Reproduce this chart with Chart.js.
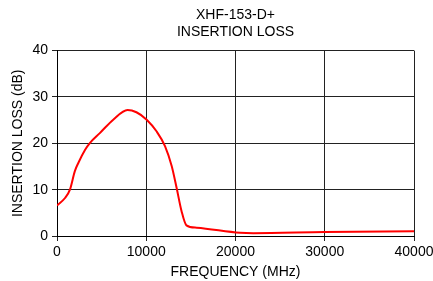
<!DOCTYPE html>
<html>
<head>
<meta charset="utf-8">
<script src="https://cdn.jsdelivr.net/npm/chart.js@4/dist/chart.umd.min.js"></script>
<style>
  html,body{margin:0;padding:0;background:#fff}
  #wrap{width:433px;height:281px;position:relative}
</style>
</head>
<body>
<div id="wrap"><canvas id="c"></canvas></div>
<script>
// ── Data ──
var freqMHz=[0,900,1450,2000,2400,3150,3700,4800,6300,7900,8900,10050,11150,12100,12850,13400,13950,14500,15650,20500,22000,30000,40000];
var lossDb=[6.6,8.2,10.0,14.0,15.8,18.6,20.1,22.2,25.1,27.2,26.7,25.1,22.6,19.4,15.1,10.4,5.4,2.3,1.8,0.7,0.6,0.85,1.0];
var xTicks=[0,10000,20000,30000,40000];
var yTicks=[0,10,20,30,40];
var titleLines=['XHF-153-D+','INSERTION LOSS'];

var FONT='"Liberation Sans", Arial, sans-serif';
Chart.defaults.font.family=FONT;
Chart.defaults.color='#000';

var points=freqMHz.map(function(f,i){return {x:f,y:lossDb[i]}});

new Chart(document.getElementById('c'),{
  type:'line',
  data:{datasets:[{data:points,borderColor:'#ff0000',borderWidth:2,pointRadius:0,cubicInterpolationMode:'monotone',fill:false}]},
  options:{
    responsive:true,maintainAspectRatio:false,animation:false,
    layout:{padding:{left:10,right:19,top:7,bottom:0}},
    plugins:{
      legend:{display:false},tooltip:{enabled:false},
      title:{display:true,fullSize:false,text:titleLines,color:'#000',font:{size:14,weight:'normal'},padding:{top:0,bottom:10},lineHeight:1.15}
    },
    scales:{
      x:{type:'linear',min:0,max:40000,
        afterBuildTicks:function(s){s.ticks=xTicks.map(function(v){return {value:v}})},
        afterFit:function(s){s.height=45;s.paddingLeft=0;s.paddingRight=0},
        grid:{color:'#222',lineWidth:1,tickLength:5},border:{color:'#000',width:1},
        ticks:{color:'#000',font:{size:14},maxRotation:0,padding:3,callback:function(v){return String(v)}},
        title:{display:true,text:'FREQUENCY (MHz)',color:'#000',font:{size:14},padding:{top:2,bottom:0}}
      },
      y:{min:0,max:40,
        afterBuildTicks:function(s){s.ticks=yTicks.map(function(v){return {value:v}})},
        afterFit:function(s){s.width=47},
        grid:{color:'#222',lineWidth:1,tickLength:5},border:{color:'#000',width:1},
        ticks:{color:'#000',font:{size:14},padding:4},
        title:{display:true,text:'INSERTION LOSS (dB)',color:'#000',font:{size:14},padding:{top:0,bottom:2}}
      }
    }
  }
});
</script>
</body>
</html>
